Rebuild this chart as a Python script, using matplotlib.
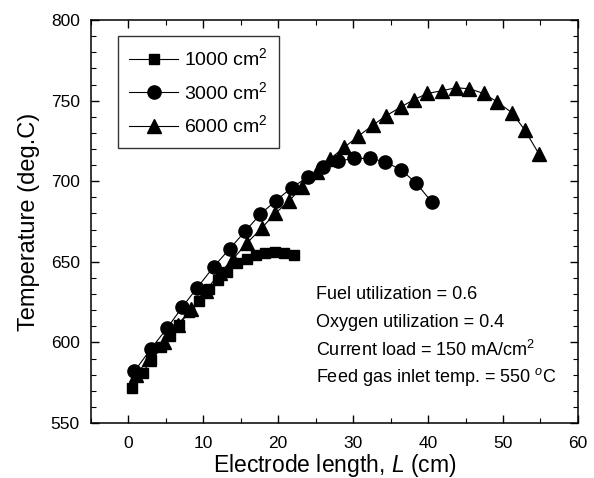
import matplotlib
matplotlib.use("Agg")
import matplotlib.pyplot as plt
from matplotlib.ticker import MultipleLocator

plt.rcParams['font.family'] = ['Liberation Sans', 'DejaVu Sans']
plt.rcParams['mathtext.fontset'] = 'custom'
plt.rcParams['mathtext.rm'] = 'Liberation Sans'
plt.rcParams['mathtext.it'] = 'Liberation Sans:italic'

# electrode area 1000 cm2 (squares)
x_1000 = [0.5, 1.9, 3.0, 4.3, 5.5, 6.8, 8.1, 9.4, 10.7, 12.0, 13.2, 14.5, 15.8, 17.0,
          18.3, 19.6, 20.8, 22.1]
t_1000 = [571.5, 581, 589, 597, 604, 611, 619, 626, 633, 639, 644, 649, 652, 654,
          655.5, 656, 655.6, 654.5]

# electrode area 3000 cm2 (circles)
x_3000 = [0.8, 3.0, 5.2, 7.2, 9.2, 11.4, 13.5, 15.6, 17.6, 19.7, 21.8, 24.0, 26.0,
          28.0, 30.1, 32.2, 34.3, 36.4, 38.4, 40.5]
t_3000 = [582, 596, 609, 622, 634, 647, 658, 669, 679.5, 688, 696, 702.8, 708.6,
          712.5, 714.2, 714.2, 712.1, 707, 699, 687]

# electrode area 6000 cm2 (triangles)
x_6000 = [1.0, 2.8, 4.7, 6.6, 8.4, 10.3, 12.2, 14.0, 15.9, 17.8, 19.6, 21.5, 23.2,
          25.2, 26.9, 28.8, 30.7, 32.6, 34.4, 36.4, 38.1, 39.9, 41.8, 43.7, 45.5,
          47.4, 49.2, 51.2, 52.9, 54.8]
t_6000 = [580, 590, 600, 611, 621, 632, 643, 652, 662, 671, 680, 688, 696.6, 705.9,
          713.8, 721, 728, 734.7, 740.6, 746.2, 750.6, 754.5, 756.1, 758, 757.4,
          754.5, 749.3, 742.5, 731.8, 716.9]

labels = ['1000 cm$^2$', '3000 cm$^2$', '6000 cm$^2$']
notes = ['Fuel utilization = 0.6',
         'Oxygen utilization = 0.4',
         'Current load = 150 mA/cm$^2$',
         'Feed gas inlet temp. = 550 $^{o}$C']

fig = plt.figure(figsize=(5.94, 4.78), dpi=100)
ax = fig.add_axes([0.153, 0.115, 0.82, 0.843])

ax.plot(x_1000, t_1000, 'k-', marker='s', ms=7.5, lw=0.8, label=labels[0])
ax.plot(x_3000, t_3000, 'k-', marker='o', ms=9.5, lw=0.8, label=labels[1])
ax.plot(x_6000, t_6000, 'k-', marker='^', ms=9.5, lw=0.8, label=labels[2])

ax.set_xlim(-5, 60)
ax.set_ylim(550, 800)
ax.xaxis.set_major_locator(MultipleLocator(10))
ax.xaxis.set_minor_locator(MultipleLocator(5))
ax.yaxis.set_major_locator(MultipleLocator(50))
ax.yaxis.set_minor_locator(MultipleLocator(10))
ax.tick_params(which='both', direction='in', top=True, right=True, labelsize=12.5)
ax.tick_params(which='major', length=6, width=1, pad=8)
ax.tick_params(axis='x', which='major', pad=9)
ax.tick_params(which='minor', length=3.5, width=0.8)
for s in ax.spines.values():
    s.set_linewidth(1.1)

ax.set_xlabel('Electrode length, $L$ (cm)', fontsize=16.5, labelpad=1)
ax.set_ylabel('Temperature (deg.C)', fontsize=17, labelpad=8)

leg = ax.legend(loc='upper left', bbox_to_anchor=(0.035, 0.985), fontsize=14,
                frameon=True, fancybox=False, edgecolor='black', handlelength=2.5,
                borderpad=0.6, labelspacing=0.6, handletextpad=0.3)
leg.get_frame().set_linewidth(1.0)

for i, txt in enumerate(notes):
    ax.text(0.463, 0.318 - i * 0.068, txt, transform=ax.transAxes, fontsize=13,
            va='center', ha='left')

fig.savefig('out.png', dpi=100)
